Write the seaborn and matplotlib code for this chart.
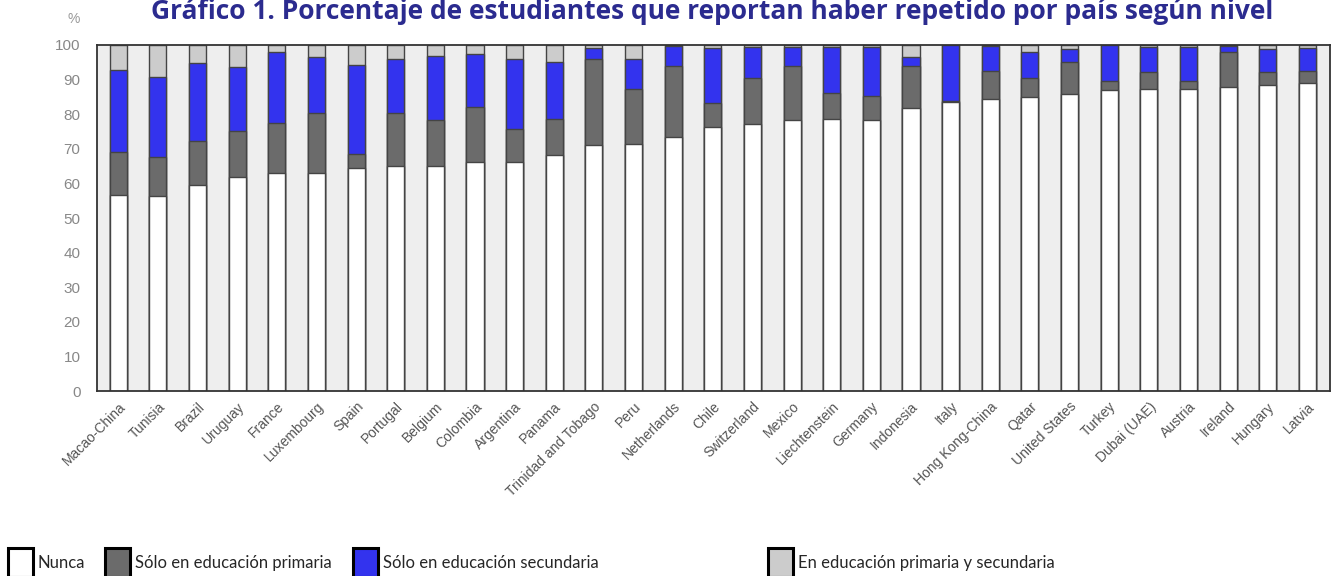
import numpy as np
import pandas as pd
import seaborn as sns
import matplotlib.pyplot as plt
from matplotlib.patches import Patch

# Countries and percentages by segment
paises = ["Macao-China", "Tunisia", "Brazil", "Uruguay", "France", "Luxembourg", "Spain",
          "Portugal", "Belgium", "Colombia", "Argentina", "Panama", "Trinidad and Tobago",
          "Peru", "Netherlands", "Chile", "Switzerland", "Mexico", "Liechtenstein", "Germany",
          "Indonesia", "Italy", "Hong Kong-China", "Qatar", "United States", "Turkey",
          "Dubai (UAE)", "Austria", "Ireland", "Hungary", "Latvia"]
nunca = [56.6, 56.4, 59.5, 61.9, 62.9, 63.1, 64.4, 65.0, 65.0, 66.2, 66.1, 68.2, 71.1, 71.5,
         73.3, 76.2, 77.2, 78.3, 78.5, 78.3, 81.7, 83.6, 84.3, 85.1, 85.8, 87.0, 87.4, 87.4,
         87.8, 88.4, 88.9]
primaria = [12.6, 11.1, 12.8, 13.3, 14.6, 17.2, 4.1, 15.3, 13.3, 15.8, 9.5, 10.5, 24.7, 15.9,
            20.6, 6.9, 13.2, 15.6, 7.7, 7.0, 12.2, 0.2, 8.3, 5.3, 9.4, 2.7, 4.9, 2.3, 10.3,
            3.9, 3.7]
secundaria = [23.6, 23.2, 22.6, 18.5, 20.6, 16.3, 25.7, 15.5, 18.5, 15.4, 20.4, 16.5, 3.2, 8.6,
              5.8, 15.9, 9.1, 5.6, 13.1, 14.0, 2.7, 16.2, 7.1, 7.7, 3.5, 10.3, 7.0, 9.6, 1.6,
              6.4, 6.4]
ambos = [7.2, 9.3, 5.1, 6.3, 1.9, 3.4, 5.8, 4.2, 3.2, 2.6, 4.0, 4.8, 1.0, 4.0, 0.3, 1.0, 0.5,
         0.5, 0.7, 0.7, 3.4, 0.0, 0.3, 1.9, 1.3, 0.0, 0.7, 0.7, 0.3, 1.3, 1.0]

etiquetas = ["Nunca", "Sólo en educación primaria", "Sólo en educación secundaria",
             "En educación primaria y secundaria"]
colores = ["#ffffff", "#6b6b6b", "#3333ee", "#cccccc"]

sns.set_style("white")
plt.rcParams["font.family"] = ["Liberation Sans", "DejaVu Sans"]

df = pd.DataFrame({"pais": paises, "nunca": nunca, "primaria": primaria,
                   "secundaria": secundaria, "ambos": ambos})
capas = np.cumsum(df[["nunca", "primaria", "secundaria", "ambos"]].values, axis=1)

fig = plt.figure(figsize=(13.32, 5.76), dpi=100)
ax = fig.add_axes([0.073, 0.321, 0.9255, 0.601])
ax.set_facecolor("#eeeeee")

# draw stacked bars from the top layer down
for k in range(3, -1, -1):
    sns.barplot(x=df["pais"], y=capas[:, k], color=colores[k], saturation=1,
                edgecolor="#444444", linewidth=1, width=0.43, ax=ax)

ax.set_xlim(-0.53, 30.57)
ax.set_ylim(0, 100)
ax.set_yticks(range(0, 101, 10))
ax.set_xlabel("")
ax.set_ylabel("")
ax.set_xticks(range(len(paises)))
ax.set_xticklabels(paises, rotation=45, ha="right", rotation_mode="anchor",
                   color="#777777", fontsize=10)
ax.tick_params(axis="y", direction="in", length=5, colors="#555555", labelcolor="#888888",
               labelsize=11, pad=12)
ax.tick_params(axis="x", direction="in", length=4, colors="#555555", pad=6)
for s in ax.spines.values():
    s.set_color("#333333")
    s.set_linewidth(1.3)

fig.text(0.055, 0.967, "%", color="#999999", fontsize=10, ha="center", va="center")
fig.text(0.535, 0.967, "Gráfico 1. Porcentaje de estudiantes que reportan haber repetido por país según nivel",
         ha="center", va="baseline", fontsize=19, fontweight="bold", color="#2b2b8f",
         family=["Open Sans", "DejaVu Sans"])

# legend entries placed one by one, as in the reference
x_leyenda = [-0.003, 0.070, 0.256, 0.568]
for c, et, xl in zip(colores, etiquetas, x_leyenda):
    fig.legend([Patch(facecolor=c, edgecolor="black", linewidth=2.2)], [et],
               loc="lower left", bbox_to_anchor=(xl, -0.022), frameon=False,
               handlelength=1.5, handleheight=2.3, handletextpad=0.3,
               borderpad=0.2, prop={"family": ["Lato", "DejaVu Sans"], "size": 12})

plt.savefig("out.png", dpi=100)
plt.close()
